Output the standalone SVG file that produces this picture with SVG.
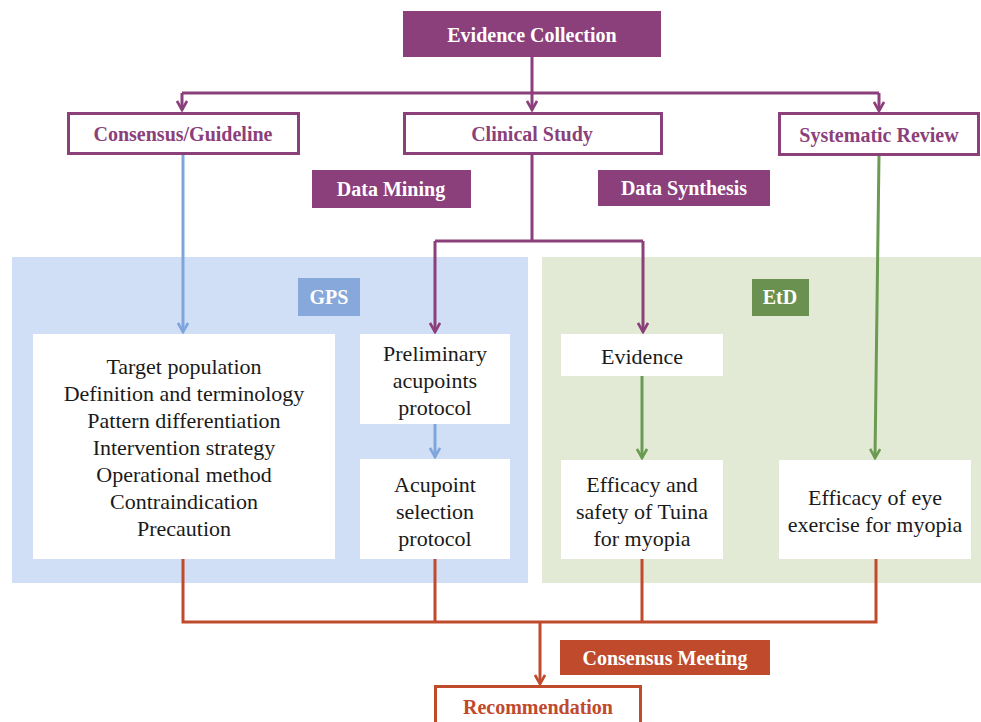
<svg xmlns="http://www.w3.org/2000/svg" width="981" height="722" viewBox="0 0 981 722">
<defs>
<marker id="ap" viewBox="0 0 12 12" refX="10" refY="6" markerWidth="12" markerHeight="12" markerUnits="userSpaceOnUse" orient="auto"><path d="M1,1 L10,6 L1,11" fill="none" stroke="#8B3F7B" stroke-width="2.6"/></marker>
<marker id="ab" viewBox="0 0 12 12" refX="10" refY="6" markerWidth="12" markerHeight="12" markerUnits="userSpaceOnUse" orient="auto"><path d="M1,1 L10,6 L1,11" fill="none" stroke="#7FA6DC" stroke-width="2.6"/></marker>
<marker id="ag" viewBox="0 0 12 12" refX="10" refY="6" markerWidth="12" markerHeight="12" markerUnits="userSpaceOnUse" orient="auto"><path d="M1,1 L10,6 L1,11" fill="none" stroke="#6B9A52" stroke-width="2.6"/></marker>
<marker id="ar" viewBox="0 0 12 12" refX="10" refY="6" markerWidth="12" markerHeight="12" markerUnits="userSpaceOnUse" orient="auto"><path d="M1,1 L10,6 L1,11" fill="none" stroke="#BF4A2C" stroke-width="2.6"/></marker>
</defs>
<rect width="981" height="722" fill="#ffffff"/>
<g id="panels">
<rect id="gps-panel" x="12" y="257" width="516" height="326" fill="#D0DFF5"/>
<rect id="etd-panel" x="542" y="257" width="439" height="326" fill="#E2EAD6"/>
</g>
<g id="connectors" fill="none" stroke-width="3">
<path stroke="#8B3F7B" d="M532,57 V110" marker-end="url(#ap)"/>
<path stroke="#8B3F7B" d="M182,93 H879"/>
<path stroke="#8B3F7B" d="M182,93 V110" marker-end="url(#ap)"/>
<path stroke="#8B3F7B" d="M879,93 V111" marker-end="url(#ap)"/>
<path stroke="#8B3F7B" d="M532,154 V241 M435,241 H643"/>
<path stroke="#8B3F7B" d="M435,241 V332" marker-end="url(#ap)"/>
<path stroke="#8B3F7B" d="M643,241 V332" marker-end="url(#ap)"/>
<path stroke="#7FA6DC" d="M183,154 V332" marker-end="url(#ab)"/>
<path stroke="#7FA6DC" d="M435,424 V457" marker-end="url(#ab)"/>
<path stroke="#6B9A52" d="M879,155 L875,458" marker-end="url(#ag)"/>
<path stroke="#6B9A52" d="M642,376 V458" marker-end="url(#ag)"/>
<path stroke="#BF4A2C" d="M183,559 V622 H876 V559 M435,559 V622 M642,559 V622"/>
<path stroke="#BF4A2C" d="M540,622 V684" marker-end="url(#ar)"/>
</g>
<g id="evidence-collection">
<rect x="403" y="11" width="258" height="46" fill="#8B3F7B"/>
<text font-family="Liberation Serif" font-weight="bold" font-size="20" text-anchor="middle" fill="#ffffff" x="532" y="42">Evidence Collection</text>
</g>
<g id="consensus-guideline">
<rect x="68.5" y="113.5" width="230" height="40" fill="#fff" stroke="#8B3F7B" stroke-width="3"/>
<text font-family="Liberation Serif" font-weight="bold" font-size="20" text-anchor="middle" fill="#8B3F7B" x="183" y="141">Consensus/Guideline</text>
</g>
<g id="clinical-study">
<rect x="404.5" y="113.5" width="257" height="40" fill="#fff" stroke="#8B3F7B" stroke-width="3"/>
<text font-family="Liberation Serif" font-weight="bold" font-size="20" text-anchor="middle" fill="#8B3F7B" x="532" y="141">Clinical Study</text>
</g>
<g id="systematic-review">
<rect x="779.5" y="113.5" width="199" height="41" fill="#fff" stroke="#8B3F7B" stroke-width="3"/>
<text font-family="Liberation Serif" font-weight="bold" font-size="20" text-anchor="middle" fill="#8B3F7B" x="879" y="142">Systematic Review</text>
</g>
<g id="data-mining">
<rect x="312" y="170" width="159" height="38" fill="#8B3F7B"/>
<text font-family="Liberation Serif" font-weight="bold" font-size="20" text-anchor="middle" fill="#ffffff" x="391" y="196">Data Mining</text>
</g>
<g id="data-synthesis">
<rect x="598" y="170" width="172" height="36" fill="#8B3F7B"/>
<text font-family="Liberation Serif" font-weight="bold" font-size="20" text-anchor="middle" fill="#ffffff" x="684" y="195">Data Synthesis</text>
</g>
<g id="gps">
<rect x="298" y="278" width="62" height="38" fill="#86A8DA"/>
<text font-family="Liberation Serif" font-weight="bold" font-size="20" text-anchor="middle" fill="#ffffff" x="329" y="304">GPS</text>
</g>
<g id="etd">
<rect x="752" y="279" width="57" height="37" fill="#6A9150"/>
<text font-family="Liberation Serif" font-weight="bold" font-size="20" text-anchor="middle" fill="#ffffff" x="780" y="304">EtD</text>
</g>
<g id="gps-items">
<rect fill="#ffffff" x="33" y="334" width="302" height="225"/>
<text font-family="Liberation Serif" font-size="22" text-anchor="middle" fill="#1a1a1a" x="184" y="374">Target population</text>
<text font-family="Liberation Serif" font-size="22" text-anchor="middle" fill="#1a1a1a" x="184" y="401">Definition and terminology</text>
<text font-family="Liberation Serif" font-size="22" text-anchor="middle" fill="#1a1a1a" x="184" y="428">Pattern differentiation</text>
<text font-family="Liberation Serif" font-size="22" text-anchor="middle" fill="#1a1a1a" x="184" y="455">Intervention strategy</text>
<text font-family="Liberation Serif" font-size="22" text-anchor="middle" fill="#1a1a1a" x="184" y="482">Operational method</text>
<text font-family="Liberation Serif" font-size="22" text-anchor="middle" fill="#1a1a1a" x="184" y="509">Contraindication</text>
<text font-family="Liberation Serif" font-size="22" text-anchor="middle" fill="#1a1a1a" x="184" y="536">Precaution</text>
</g>
<g id="preliminary">
<rect fill="#ffffff" x="360" y="334" width="150" height="90"/>
<text font-family="Liberation Serif" font-size="22" text-anchor="middle" fill="#1a1a1a" x="435" y="361">Preliminary</text>
<text font-family="Liberation Serif" font-size="22" text-anchor="middle" fill="#1a1a1a" x="435" y="388">acupoints</text>
<text font-family="Liberation Serif" font-size="22" text-anchor="middle" fill="#1a1a1a" x="435" y="415">protocol</text>
</g>
<g id="acupoint-selection">
<rect fill="#ffffff" x="360" y="459" width="150" height="100"/>
<text font-family="Liberation Serif" font-size="22" text-anchor="middle" fill="#1a1a1a" x="435" y="492">Acupoint</text>
<text font-family="Liberation Serif" font-size="22" text-anchor="middle" fill="#1a1a1a" x="435" y="519">selection</text>
<text font-family="Liberation Serif" font-size="22" text-anchor="middle" fill="#1a1a1a" x="435" y="546">protocol</text>
</g>
<g id="evidence">
<rect fill="#ffffff" x="561" y="334" width="162" height="42"/>
<text font-family="Liberation Serif" font-size="22" text-anchor="middle" fill="#1a1a1a" x="642" y="364">Evidence</text>
</g>
<g id="tuina">
<rect fill="#ffffff" x="561" y="460" width="162" height="99"/>
<text font-family="Liberation Serif" font-size="22" text-anchor="middle" fill="#1a1a1a" x="642" y="492">Efficacy and</text>
<text font-family="Liberation Serif" font-size="22" text-anchor="middle" fill="#1a1a1a" x="642" y="519">safety of Tuina</text>
<text font-family="Liberation Serif" font-size="22" text-anchor="middle" fill="#1a1a1a" x="642" y="546">for myopia</text>
</g>
<g id="eye-exercise">
<rect fill="#ffffff" x="779" y="460" width="192" height="99"/>
<text font-family="Liberation Serif" font-size="22" text-anchor="middle" fill="#1a1a1a" x="875" y="505">Efficacy of eye</text>
<text font-family="Liberation Serif" font-size="22" text-anchor="middle" fill="#1a1a1a" x="875" y="532">exercise for myopia</text>
</g>
<g id="consensus-meeting">
<rect x="560" y="640" width="210" height="35" fill="#BF4A2C"/>
<text font-family="Liberation Serif" font-weight="bold" font-size="20" text-anchor="middle" fill="#ffffff" x="665" y="665">Consensus Meeting</text>
</g>
<g id="recommendation">
<rect x="435.5" y="686.5" width="205" height="40" fill="#fff" stroke="#BF4A2C" stroke-width="3"/>
<text font-family="Liberation Serif" font-weight="bold" font-size="20" text-anchor="middle" fill="#BF4A2C" x="538" y="714">Recommendation</text>
</g>
</svg>
